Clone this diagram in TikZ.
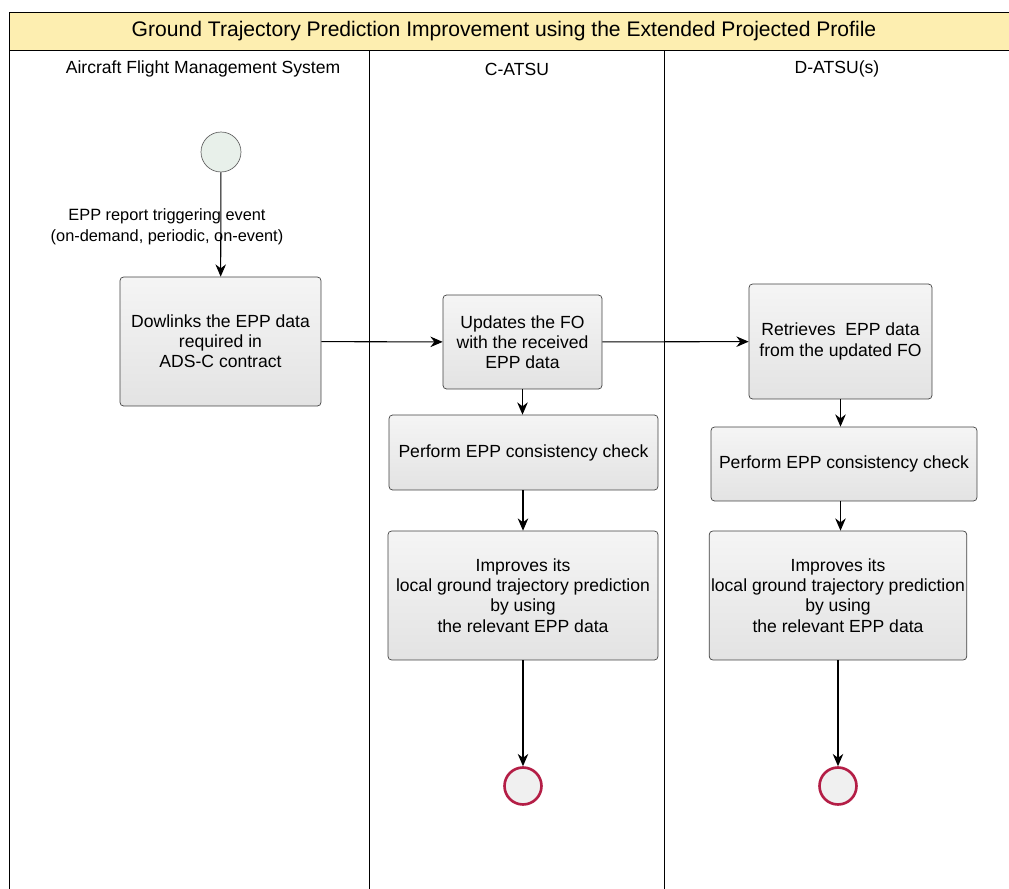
\documentclass[tikz,border=0pt]{standalone}
\usepackage{fontspec}
\setmainfont{Liberation Sans}
\usetikzlibrary{arrows.meta}
\definecolor{titleyellow}{RGB}{253,238,176}
\definecolor{startfill}{RGB}{232,240,234}
\definecolor{endred}{RGB}{180,30,70}
\begin{document}
\begin{tikzpicture}[x=0.02cm, y=-0.02cm,
		task/.style={draw=black!75, rounded corners=2pt, top color=gray!8, bottom color=gray!22, align=center, font=\fontsize{10}{11.5}\selectfont, inner sep=1pt},
		flow/.style={-{Stealth[length=7pt, width=6pt]}, line width=0.6pt},
		startev/.style={circle, draw=black!60, fill=startfill, minimum size=0.8cm, inner sep=0pt},
		endev/.style={circle, draw=endred, line width=1.5pt, fill=gray!12, minimum size=0.74cm, inner sep=0pt},
		lanehead/.style={font=\fontsize{10}{12}\selectfont}]
		\useasboundingbox (0,0) rectangle (1009,889);
		\fill[titleyellow] (9,12) rectangle (1009,50);
		\draw[line width=0.5pt] (1009,12) -- (9,12) -- (9,889);
		\draw[line width=0.5pt] (9,50) -- (1009,50);
		\draw[line width=0.5pt] (369,50) -- (369,889);
		\draw[line width=0.5pt] (664,50) -- (664,889);

		\node(title)[font=\fontsize{12}{14}\selectfont] at (504,31){Ground Trajectory Prediction Improvement using the Extended Projected Profile};
		\node(fms)[lanehead] at (203,69){Aircraft Flight Management System};
		\node(catsu)[lanehead] at (517,69){C-ATSU};
		\node(datsu)[lanehead] at (837,69){D-ATSU(s)};

		\node(start)[startev] at (221,152){};
		\node(trig)[align=center, font=\fontsize{9.3}{12}\selectfont] at (167,227){EPP report triggering event\\(on-demand, periodic, on-event)};

		\node(down)[task, minimum width=4.02cm, minimum height=2.58cm] at (220.5,341.5){Dowlinks the EPP data\\required in\\ADS-C contract};
		\node(upd)[task, minimum width=3.18cm, minimum height=1.88cm] at (522.5,342){Updates the FO\\with the received\\EPP data};
		\node(retr)[task, minimum width=3.66cm, minimum height=2.3cm] at (840.5,341.5){Retrieves\ \ EPP data\\from the updated FO};
		\node(chkc)[task, minimum width=5.38cm, minimum height=1.5cm] at (523.5,452.5){Perform EPP consistency check};
		\node(chkd)[task, minimum width=5.32cm, minimum height=1.48cm] at (844,464){Perform EPP consistency check};
		\node(impc)[task, minimum width=5.4cm, minimum height=2.58cm] at (523,595.5){Improves its\\local ground trajectory prediction\\by using\\the relevant EPP data};
		\node(impd)[task, minimum width=5.08cm, minimum height=2.58cm] at (838,595.5){Improves its\\local ground trajectory prediction\\by using\\the relevant EPP data};

		\node(endc)[endev] at (523,786){};
		\node(endd)[endev] at (838,786){};

		\draw[flow] (start) -- (down);
		\draw[flow] (down) -- (upd);
		\draw[flow] (upd) -- (retr);
		\draw[flow] (upd) -- (upd|-chkc.north);
		\draw[flow] (chkc.south-|impc) -- (impc);
		\draw[flow] (impc) -- (endc);
		\draw[flow] (retr) -- (retr|-chkd.north);
		\draw[flow] (retr|-chkd.south) -- (retr|-impd.north);
		\draw[flow] (impd) -- (endd);
\end{tikzpicture}
\end{document}
